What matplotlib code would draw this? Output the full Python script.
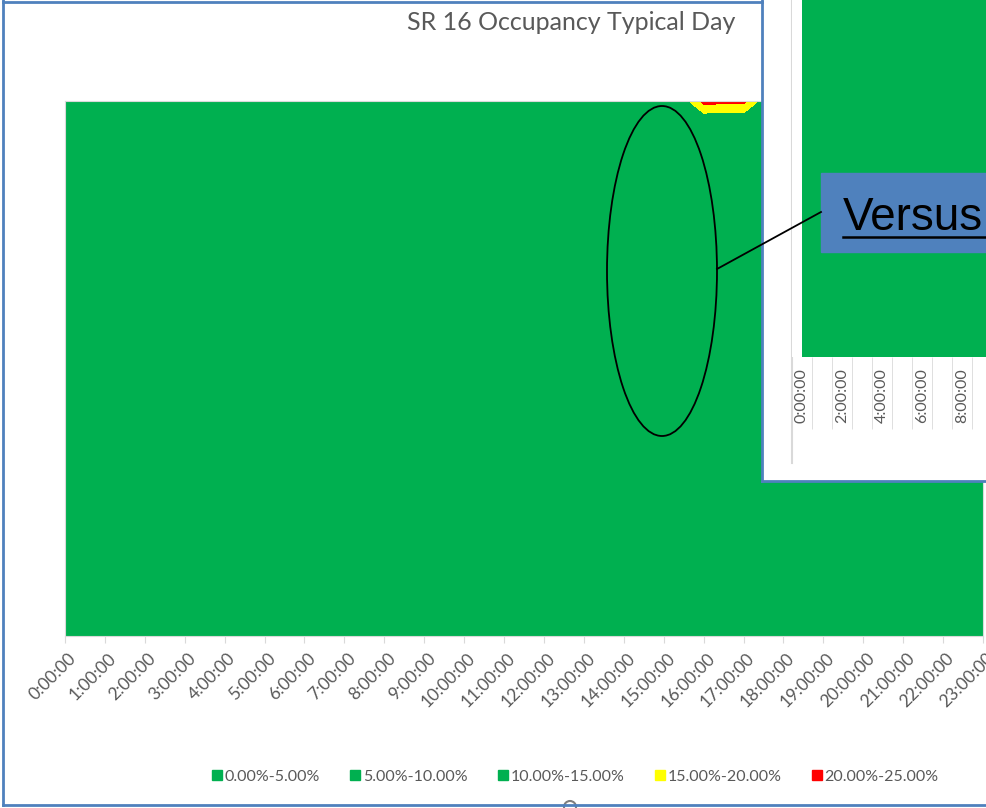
import numpy as np
import matplotlib
matplotlib.use("Agg")
import matplotlib.pyplot as plt
from matplotlib.patches import Ellipse, Rectangle, Circle
from matplotlib.lines import Line2D
from matplotlib.transforms import ScaledTranslation

W, H = 986, 808

# ---------------------------------------------------------
# Data
# ---------------------------------------------------------
hours = list(range(24))
hour_labels = [f"{h}:00:00" for h in hours]

band_levels = [0, 5, 10, 15, 20, 25]
band_labels = ["0.00%-5.00%", "5.00%-10.00%", "10.00%-15.00%",
               "15.00%-20.00%", "20.00%-25.00%"]
band_colors = ["#00B050", "#00B050", "#00B050", "#FFFF00", "#FF0000"]

# occupancy (%) per detector station (rows, top first) and hour
occupancy = [
    [0.6, 0.4, 0.3, 0.3, 0.5, 1.2, 2.4, 3.1, 3.0, 2.6, 2.4, 2.5, 2.7, 2.9, 3.2, 3.6, 21.7, 21.6, 3.6, 2.8, 2.0, 1.5, 1.1, 0.8],
    [0.5, 0.4, 0.3, 0.3, 0.4, 1.0, 2.1, 2.8, 2.7, 2.3, 2.1, 2.2, 2.3, 2.5, 2.6, 2.4, 1.8, 1.9, 2.3, 2.2, 1.7, 1.3, 0.9, 0.7],
    [0.5, 0.3, 0.3, 0.2, 0.4, 1.1, 2.3, 3.0, 2.9, 2.4, 2.2, 2.3, 2.4, 2.6, 2.9, 3.1, 3.2, 3.0, 2.7, 2.1, 1.6, 1.2, 0.9, 0.6],
    [0.6, 0.4, 0.3, 0.3, 0.5, 1.3, 2.6, 3.4, 3.2, 2.7, 2.4, 2.5, 2.6, 2.8, 3.1, 3.4, 3.5, 3.3, 2.9, 2.3, 1.8, 1.4, 1.0, 0.7],
    [0.4, 0.3, 0.2, 0.2, 0.4, 1.0, 2.2, 2.9, 2.8, 2.3, 2.1, 2.1, 2.2, 2.4, 2.7, 3.0, 3.1, 2.9, 2.5, 2.0, 1.5, 1.1, 0.8, 0.6],
    [0.5, 0.4, 0.3, 0.3, 0.5, 1.2, 2.5, 3.3, 3.1, 2.6, 2.3, 2.4, 2.5, 2.7, 3.0, 3.3, 3.4, 3.2, 2.8, 2.2, 1.7, 1.3, 1.0, 0.7],
    [0.6, 0.4, 0.3, 0.3, 0.6, 1.4, 2.8, 3.6, 3.4, 2.8, 2.5, 2.6, 2.7, 2.9, 3.3, 3.6, 3.8, 3.5, 3.0, 2.4, 1.9, 1.5, 1.1, 0.8],
    [0.5, 0.3, 0.3, 0.2, 0.5, 1.2, 2.4, 3.2, 3.0, 2.5, 2.2, 2.3, 2.4, 2.6, 2.9, 3.2, 3.3, 3.1, 2.7, 2.1, 1.6, 1.2, 0.9, 0.6],
    [0.4, 0.3, 0.2, 0.2, 0.4, 1.1, 2.2, 2.9, 2.7, 2.2, 2.0, 2.1, 2.2, 2.4, 2.7, 3.0, 3.1, 2.9, 2.5, 1.9, 1.5, 1.1, 0.8, 0.5],
    [0.5, 0.4, 0.3, 0.3, 0.5, 1.3, 2.7, 3.5, 3.3, 2.7, 2.4, 2.5, 2.6, 2.8, 3.2, 3.5, 3.7, 3.4, 2.9, 2.3, 1.8, 1.4, 1.0, 0.7],
    [0.6, 0.4, 0.3, 0.3, 0.6, 1.5, 3.0, 3.9, 3.6, 2.9, 2.6, 2.7, 2.8, 3.0, 3.4, 3.8, 4.0, 3.7, 3.1, 2.5, 2.0, 1.5, 1.1, 0.8],
    [0.5, 0.4, 0.3, 0.3, 0.5, 1.3, 2.6, 3.4, 3.2, 2.6, 2.3, 2.4, 2.5, 2.7, 3.1, 3.4, 3.6, 3.3, 2.8, 2.2, 1.7, 1.3, 1.0, 0.7],
    [0.4, 0.3, 0.2, 0.2, 0.4, 1.0, 2.1, 2.8, 2.6, 2.1, 1.9, 2.0, 2.1, 2.3, 2.6, 2.9, 3.0, 2.8, 2.4, 1.9, 1.4, 1.1, 0.8, 0.5],
    [0.5, 0.3, 0.3, 0.2, 0.5, 1.2, 2.4, 3.1, 2.9, 2.4, 2.2, 2.2, 2.3, 2.5, 2.8, 3.1, 3.3, 3.0, 2.6, 2.0, 1.6, 1.2, 0.9, 0.6],
    [0.6, 0.4, 0.3, 0.3, 0.5, 1.4, 2.8, 3.7, 3.4, 2.8, 2.5, 2.6, 2.7, 2.9, 3.3, 3.7, 3.9, 3.6, 3.0, 2.4, 1.9, 1.4, 1.1, 0.8],
    [0.5, 0.4, 0.3, 0.3, 0.5, 1.2, 2.5, 3.3, 3.1, 2.5, 2.3, 2.4, 2.5, 2.7, 3.0, 3.3, 3.5, 3.2, 2.8, 2.2, 1.7, 1.3, 1.0, 0.7],
]

# the "versus" chart pasted on top (only its left part is visible)
versus_occupancy = [
    [0.4, 0.3, 0.2, 0.2, 0.4, 0.9, 1.9, 2.5, 2.4, 2.0, 1.8, 1.9, 2.0, 2.2, 2.4, 2.6, 2.7, 2.5, 2.2, 1.8, 1.4, 1.0, 0.7, 0.5],
    [0.5, 0.3, 0.3, 0.2, 0.4, 1.0, 2.1, 2.8, 2.6, 2.1, 1.9, 2.0, 2.1, 2.3, 2.6, 2.8, 2.9, 2.7, 2.3, 1.9, 1.5, 1.1, 0.8, 0.6],
    [0.4, 0.3, 0.2, 0.2, 0.3, 0.9, 1.8, 2.4, 2.3, 1.9, 1.7, 1.8, 1.9, 2.1, 2.3, 2.5, 2.6, 2.4, 2.1, 1.7, 1.3, 1.0, 0.7, 0.5],
]
versus_label_hours = [0, 2, 4, 6, 8]


def px(x0, y0, x1, y1):
    # pixel box (top-left origin) -> figure fraction rect
    return [x0 / W, 1 - y1 / H, (x1 - x0) / W, (y1 - y0) / H]


plt.rcParams['font.family'] = ['Lato', 'DejaVu Sans']
text_grey = '#595959'
line_grey = '#D9D9D9'
border_blue = '#4F81BD'

fig = plt.figure(figsize=(W / 100, H / 100), dpi=100)
fig.patch.set_facecolor('white')

# ---------------------------------------------------------
# Main contour chart
# ---------------------------------------------------------
ax = fig.add_axes(px(65, 101, 983, 636), zorder=1)
z = np.array(occupancy)
rows = np.arange(z.shape[0])
ax.contourf(hours, rows, z, levels=band_levels, colors=band_colors)
ax.set_xlim(hours[0], hours[-1])
ax.set_ylim(rows[-1], rows[0])
ax.set_yticks([])
ax.set_xticks(hours)
ax.set_xticklabels(hour_labels, rotation=45, ha='right',
                   rotation_mode='anchor', fontsize=12.5, color=text_grey)
ax.tick_params(axis='x', length=5, color=line_grey, pad=5)
shift = ScaledTranslation(3 / 100, 0, fig.dpi_scale_trans)
for lab in ax.get_xticklabels():
    lab.set_transform(lab.get_transform() + shift)
for s in ax.spines.values():
    s.set_color(line_grey)

handles = [Line2D([], [], marker='s', linestyle='none', markersize=7,
                  markerfacecolor=c, markeredgecolor=c) for c in band_colors]
fig.legend(handles, band_labels, loc='center',
           bbox_to_anchor=(575 / W, 1 - 777 / H), ncol=5, frameon=False,
           fontsize=11.5, handletextpad=0.1, columnspacing=1.9,
           handlelength=0.7, labelcolor=text_grey)

# ---------------------------------------------------------
# Pasted "versus" chart in the top-right corner
# ---------------------------------------------------------
bg = fig.add_axes(px(762, 0, 986, 481), zorder=2)
bg.set_xlim(762, 986)
bg.set_ylim(481, 0)
bg.set_facecolor('white')
bg.set_xticks([])
bg.set_yticks([])
for side in ['top', 'right']:
    bg.spines[side].set_visible(False)
for side in ['left', 'bottom']:
    bg.spines[side].set_color(border_blue)
    bg.spines[side].set_linewidth(2)
bg.plot([792, 792], [0, 463], color=line_grey, lw=1.5)

iax = fig.add_axes(px(792, 0, 1000, 357), zorder=3)
vz = np.array(versus_occupancy)
vrows = np.arange(vz.shape[0])
iax.contourf(hours, vrows, vz, levels=band_levels, colors=band_colors)
iax.set_xlim(-0.5, 9.9)
iax.set_ylim(vrows[-1], vrows[0])
iax.set_yticks([])
iax.set_xticks(versus_label_hours)
iax.set_xticklabels([hour_labels[h] for h in versus_label_hours],
                    rotation=90, fontsize=11.5, color=text_grey)
iax.set_xticks(np.arange(-0.5, 10, 1), minor=True)
iax.tick_params(axis='x', which='major', length=0, pad=8)
iax.tick_params(axis='x', which='minor', length=52, color=line_grey)
for s in iax.spines.values():
    s.set_visible(False)

# ---------------------------------------------------------
# Annotations / frame
# ---------------------------------------------------------
ov = fig.add_axes([0, 0, 1, 1], zorder=4)
ov.set_xlim(0, W)
ov.set_ylim(H, 0)
ov.axis('off')

ov.plot([3, 3], [0, 805], color=border_blue, lw=2)
ov.plot([3, W], [805, 805], color=border_blue, lw=2)
ov.plot([3, 762], [1.5, 1.5], color=border_blue, lw=2)
ov.add_patch(Circle((570, 807), 6, fill=False, ec='#7F7F7F', lw=1.5))

ov.text(571, 22, "SR 16 Occupancy Typical Day", ha='center', va='center',
        fontsize=18, color=text_grey)

ov.add_patch(Ellipse((662, 271), 110, 330, fill=False, ec='black', lw=1.3))
ov.plot([717, 821], [269, 212], color='black', lw=1.3)
ov.add_patch(Rectangle((821, 173), 180, 79, color=border_blue))
ov.text(843, 230, "Versus", ha='left', va='baseline', fontsize=33,
        family=['Liberation Sans', 'DejaVu Sans'], color='black')
ov.plot([843, W], [237, 237], color='black', lw=1.8)

fig.savefig("out.png", dpi=100)
